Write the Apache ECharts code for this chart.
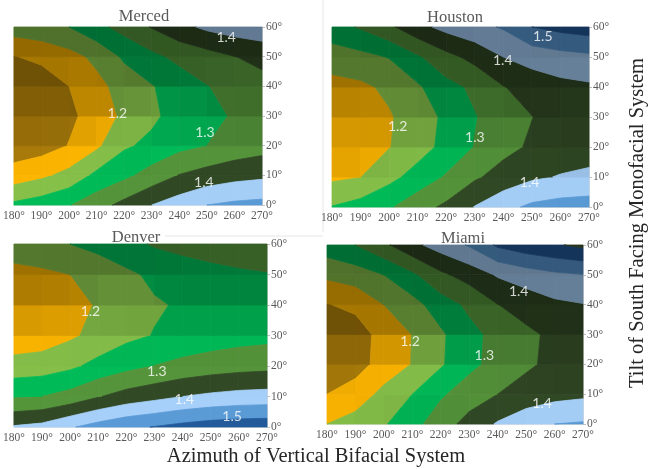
<!DOCTYPE html>
<html>
<head>
<meta charset="utf-8">
<script src="https://cdn.jsdelivr.net/npm/echarts@6/dist/echarts.min.js"></script>
<style>
  html, body { margin: 0; padding: 0; background: #ffffff; }
  #chart { width: 651px; height: 469px; }
</style>
</head>
<body>
<div id="chart"></div>
<script>
// Grid axes: azimuth of the vertical bifacial system (columns) and tilt of the
// south facing monofacial system (rows).
const azimuths = [180, 190, 200, 210, 220, 230, 240, 250, 260, 270];
const tilts = [0, 10, 20, 30, 40, 50, 60];
const azimuthTicks = ['180°', '190°', '200°', '210°', '220°', '230°', '240°', '250°', '260°', '270°'];
const tiltTicks = ['0°', '10°', '20°', '30°', '40°', '50°', '60°'];

// Contour band lower edges (step 0.05) and their fill colours.
const bandEdges = [1.10, 1.15, 1.20, 1.25, 1.30, 1.35, 1.40, 1.45, 1.50, 1.55];
const bandColors = ['#8c6608', '#d09500', '#6e9e3c', '#009a48', '#467a30',
                    '#283c1e', '#88aacc', '#4a7fb0', '#1c4a7e', '#384a28'];

const cities = ['Merced', 'Houston', 'Denver', 'Miami'];

// Energy ratio, one row per tilt (0° .. 60°), one column per azimuth (180° .. 270°).
const merced = [
  [1.260, 1.275, 1.297, 1.330, 1.365, 1.400, 1.425, 1.450, 1.460, 1.465],
  [1.172, 1.190, 1.215, 1.262, 1.288, 1.320, 1.352, 1.370, 1.383, 1.390],
  [1.120, 1.128, 1.152, 1.190, 1.243, 1.262, 1.285, 1.300, 1.318, 1.330],
  [1.110, 1.115, 1.140, 1.170, 1.210, 1.240, 1.270, 1.285, 1.305, 1.320],
  [1.120, 1.125, 1.150, 1.185, 1.220, 1.247, 1.272, 1.298, 1.318, 1.335],
  [1.148, 1.160, 1.182, 1.212, 1.258, 1.287, 1.313, 1.330, 1.349, 1.362],
  [1.225, 1.235, 1.250, 1.285, 1.318, 1.353, 1.385, 1.410, 1.425, 1.435]
];
const houston = [
  [1.252, 1.270, 1.294, 1.330, 1.360, 1.402, 1.435, 1.460, 1.470, 1.475],
  [1.190, 1.199, 1.235, 1.270, 1.305, 1.343, 1.370, 1.392, 1.403, 1.407],
  [1.170, 1.178, 1.198, 1.228, 1.265, 1.302, 1.335, 1.357, 1.373, 1.385],
  [1.165, 1.175, 1.195, 1.225, 1.260, 1.297, 1.325, 1.349, 1.370, 1.382],
  [1.182, 1.190, 1.210, 1.243, 1.283, 1.310, 1.348, 1.370, 1.385, 1.392],
  [1.225, 1.235, 1.252, 1.293, 1.335, 1.365, 1.400, 1.420, 1.432, 1.440],
  [1.280, 1.305, 1.340, 1.385, 1.415, 1.435, 1.455, 1.500, 1.515, 1.525]
];
const denver = [
  [1.405, 1.415, 1.445, 1.470, 1.490, 1.502, 1.515, 1.525, 1.530, 1.532],
  [1.295, 1.300, 1.318, 1.347, 1.370, 1.385, 1.400, 1.410, 1.417, 1.420],
  [1.220, 1.225, 1.240, 1.265, 1.285, 1.301, 1.315, 1.325, 1.332, 1.336],
  [1.165, 1.172, 1.192, 1.215, 1.238, 1.252, 1.262, 1.272, 1.280, 1.285],
  [1.160, 1.165, 1.180, 1.205, 1.230, 1.245, 1.255, 1.265, 1.272, 1.278],
  [1.185, 1.190, 1.200, 1.220, 1.240, 1.260, 1.275, 1.285, 1.292, 1.297],
  [1.225, 1.235, 1.250, 1.265, 1.285, 1.305, 1.315, 1.322, 1.328, 1.332]
];
const miami = [
  [1.200, 1.222, 1.245, 1.283, 1.327, 1.368, 1.405, 1.432, 1.450, 1.455],
  [1.150, 1.170, 1.215, 1.250, 1.293, 1.325, 1.350, 1.370, 1.383, 1.390],
  [1.118, 1.132, 1.167, 1.202, 1.244, 1.287, 1.317, 1.342, 1.362, 1.375],
  [1.115, 1.130, 1.165, 1.201, 1.242, 1.285, 1.315, 1.340, 1.360, 1.372],
  [1.148, 1.160, 1.200, 1.232, 1.275, 1.310, 1.349, 1.370, 1.390, 1.398],
  [1.210, 1.225, 1.250, 1.290, 1.340, 1.370, 1.405, 1.425, 1.440, 1.448],
  [1.278, 1.300, 1.340, 1.387, 1.422, 1.455, 1.508, 1.530, 1.545, 1.560]
];

// Contour labels: [azimuth, tilt, level]
const mercedLabels = [[257, 56.3, 1.4], [217.5, 31, 1.2], [249.3, 24.3, 1.3], [248.9, 7.5, 1.4]];
const houstonLabels = [[253.8, 56.7, 1.5], [239.8, 49, 1.4], [203, 27, 1.2], [230, 23.3, 1.3], [249.2, 8.3, 1.4]];
const denverLabels = [[207.2, 37.8, 1.2], [230.8, 18.1, 1.3], [240.6, 8.9, 1.4], [257.6, 3.4, 1.5]];
const miamiLabels = [[247.4, 44.3, 1.4], [209.2, 27.6, 1.2], [235.3, 22.8, 1.3], [255.6, 6.9, 1.4]];

const grids = [merced, houston, denver, miami];
const labelSets = [mercedLabels, houstonLabels, denverLabels, miamiLabels];

// Panel layout in pixels
const panels = [
  { grid: { left: 7,   top: 27,  width: 255, height: 178 }, title: [144, 17] },
  { grid: { left: 332, top: 27,  width: 257, height: 180 }, title: [455, 18] },
  { grid: { left: 6,   top: 244, width: 261, height: 183 }, title: [136, 238] },
  { grid: { left: 327, top: 245, width: 256, height: 179 }, title: [463, 239] }
];

function shade(hex, f) {
  const n = parseInt(hex.slice(1), 16);
  const ch = [(n >> 16) & 255, (n >> 8) & 255, n & 255].map(c => Math.max(0, Math.min(255, Math.round(c * f))));
  return 'rgb(' + ch.join(',') + ')';
}

// Sutherland-Hodgman clip of a polygon [{x,y,v}] against a value level
function clipLevel(poly, level, keepAbove) {
  const out = [];
  const inside = p => keepAbove ? p.v >= level : p.v < level;
  for (let i = 0; i < poly.length; i++) {
    const cur = poly[i];
    const prev = poly[(i + poly.length - 1) % poly.length];
    const ci = inside(cur), pi = inside(prev);
    if (ci !== pi) {
      const t = (level - prev.v) / (cur.v - prev.v);
      out.push({ x: prev.x + t * (cur.x - prev.x), y: prev.y + t * (cur.y - prev.y), v: level });
    }
    if (ci) out.push(cur);
  }
  return out;
}

function makeRenderer(values) {
  return function (params, api) {
    const ai = api.value(2), ti = api.value(3);
    const quad = [
      { x: azimuths[ai],     y: tilts[ti],     v: values[ti][ai] },
      { x: azimuths[ai + 1], y: tilts[ti],     v: values[ti][ai + 1] },
      { x: azimuths[ai + 1], y: tilts[ti + 1], v: values[ti + 1][ai + 1] },
      { x: azimuths[ai],     y: tilts[ti + 1], v: values[ti + 1][ai] }
    ];
    // surface lighting: cells whose value rises towards low tilt are lit,
    // cells rising towards high tilt fall into shade
    const lowMean = (values[ti][ai] + values[ti][ai + 1]) / 2;
    const upMean = (values[ti + 1][ai] + values[ti + 1][ai + 1]) / 2;
    const slope = (lowMean - upMean) / (tilts[ti + 1] - tilts[ti]);
    const f = 1 + (slope > 0 ? 0.22 : 0.3) * Math.tanh(slope / 0.004);
    const children = [];
    for (let b = 0; b < bandEdges.length; b++) {
      let poly = quad;
      if (b > 0) poly = clipLevel(poly, bandEdges[b], true);
      if (poly.length < 3) continue;
      if (b < bandEdges.length - 1) poly = clipLevel(poly, bandEdges[b + 1], false);
      if (poly.length < 3) continue;
      const color = shade(bandColors[b], f);
      children.push({
        type: 'polygon',
        shape: { points: poly.map(p => api.coord([p.x, p.y])) },
        style: { fill: color, stroke: color, lineWidth: 0.8 }
      });
    }
    return { type: 'group', children: children };
  };
}

const cellData = [];
for (let ti = 0; ti < tilts.length - 1; ti++) {
  for (let ai = 0; ai < azimuths.length - 1; ai++) {
    cellData.push([azimuths[ai], tilts[ti], ai, ti]);
  }
}

const tickFont = { color: '#595959', fontFamily: '"Liberation Serif"', fontSize: 11.5 };

const option = {
  animation: false,
  backgroundColor: '#ffffff',
  grid: panels.map(p => Object.assign({ containLabel: false }, p.grid)),
  xAxis: panels.map((p, i) => ({
    type: 'value', gridIndex: i, min: 180, max: 270, interval: 10,
    axisLine: { show: true, lineStyle: { color: '#e3e3e3' } },
    axisTick: { show: false },
    splitLine: { show: false },
    axisLabel: Object.assign({ margin: 5, formatter: v => azimuthTicks[azimuths.indexOf(v)] }, tickFont)
  })),
  yAxis: panels.map((p, i) => ({
    type: 'value', gridIndex: i, min: 0, max: 60, interval: 10, position: 'right',
    axisLine: { show: true, lineStyle: { color: '#d9d9d9' } },
    axisTick: { show: true, length: 3, lineStyle: { color: '#bfbfbf' } },
    splitLine: { show: false },
    axisLabel: Object.assign({ margin: 4, formatter: v => tiltTicks[tilts.indexOf(v)] }, tickFont)
  })),
  series: [],
  graphic: [
    // faint chart-area frames
    { type: 'line', shape: { x1: 323, y1: 0, x2: 323, y2: 232 }, style: { stroke: '#e6e6e6', lineWidth: 1 }, z: 0 },
    { type: 'line', shape: { x1: 165, y1: 236, x2: 323, y2: 236 }, style: { stroke: '#e6e6e6', lineWidth: 1 }, z: 0 }
  ]
};

grids.forEach((values, i) => {
  option.series.push({
    type: 'custom', name: cities[i], xAxisIndex: i, yAxisIndex: i,
    renderItem: makeRenderer(values),
    encode: { x: 0, y: 1 },
    data: cellData,
    silent: true
  });
  option.series.push({
    type: 'scatter', xAxisIndex: i, yAxisIndex: i, symbolSize: 0, z: 5,
    data: labelSets[i],
    label: {
      show: true, position: 'inside', color: '#ffffff',
      fontFamily: 'Lato', fontSize: 14,
      formatter: p => p.value[2].toFixed(1)
    },
    silent: true
  });
  option.graphic.push({
    type: 'text', x: panels[i].title[0], y: panels[i].title[1], z: 10,
    style: { text: cities[i], textAlign: 'center', textVerticalAlign: 'middle',
             font: '16.5px "Liberation Serif"', fill: '#595959' }
  });
});

option.graphic.push({
  type: 'text', x: 316, y: 457, z: 10,
  style: { text: 'Azimuth of Vertical Bifacial System', textAlign: 'center', textVerticalAlign: 'middle',
           font: '20.5px "Liberation Serif"', fill: '#262626' }
});
option.graphic.push({
  type: 'text', x: 638, y: 223, rotation: Math.PI / 2, z: 10,
  style: { text: 'Tilt of South Facing Monofacial System', textAlign: 'center', textVerticalAlign: 'middle',
           font: '20.5px "Liberation Serif"', fill: '#262626' }
});

const chart = echarts.init(document.getElementById('chart'), null, { renderer: 'canvas' });
chart.setOption(option);
</script>
</body>
</html>
